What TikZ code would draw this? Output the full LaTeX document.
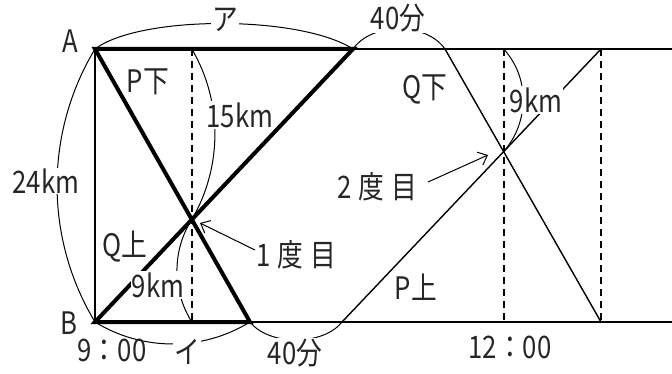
\documentclass[tikz,border=0pt]{standalone}
\usepackage{fontspec}
\setmainfont{Noto Sans CJK JP}[FakeStretch=0.83]
\usetikzlibrary{arrows.meta}
\begin{document}
\begin{tikzpicture}[x=1pt,y=-1pt,
  base/.style={line width=2pt},
  thinline/.style={line width=1.4pt},
  bold/.style={line width=4pt,line join=miter},
  dashline/.style={line width=2pt,dash pattern=on 7pt off 5pt},
  bracearc/.style={line width=1pt},
  arr/.style={line width=1pt,-{Straight Barb[length=8pt,width=14pt]}},
  lbl/.style={font=\fontsize{31}{31}\selectfont,text=black!85,inner sep=1pt},
  blk/.style={lbl,fill=white},
]
\useasboundingbox (0,0) rectangle (672,374);
% points
\coordinate (A) at (95,49);
\coordinate (B) at (95,322);
\coordinate (T1) at (353,49);
\coordinate (B1) at (250,322);
\coordinate (Q0) at (445,49);
\coordinate (Q1) at (601,322);
\coordinate (P0) at (342,322);
\coordinate (P1) at (601,49);
\coordinate (TR) at (672,49);
\coordinate (BR) at (672,322);
\coordinate (X1) at (intersection of A--B1 and B--T1);
\coordinate (X2) at (intersection of Q0--Q1 and P0--P1);
% frame
\draw[base] (A) -- (TR);
\draw[base] (B) -- (BR);
\draw[base] (A) -- (B);
% dashed verticals
\draw[dashline] (X1 |- A) -- (X1 |- B);
\draw[dashline] (X2 |- A) -- (X2 |- B);
\draw[dashline] (P1) -- (Q1);
% thin diagonals
\draw[thinline] (Q0) -- (Q1);
\draw[thinline] (P0) -- (P1);
% bold
\draw[bold] (T1) -- (A) -- (B1) -- (B) -- cycle;
% brace arcs
\draw[bracearc] (A) .. controls (140,15) and (300,15) .. (T1);
\draw[bracearc] (T1) .. controls (372,22) and (426,22) .. (Q0);
\draw[bracearc] (A) .. controls (44.4,133) and (44.4,238) .. (B);
\draw[bracearc] (X1 |- A) .. controls (222.6,101.4) and (222.6,166.6) .. (X1);
\draw[bracearc] (X1) .. controls (172,250.5) and (172,290.5) .. (X1 |- B);
\draw[bracearc] (X2 |- A) .. controls (529.7,77.4) and (529.7,121.6) .. (X2);
\draw[bracearc] (B) .. controls (142.5,351.3) and (202.5,351.3) .. (B1);
\draw[bracearc] (B1) .. controls (269,346) and (323,346) .. (P0);
% labels
\node[lbl] (lA) at (70,41) {A};
\node[lbl] (lB) at (69,323) {B};
\node[lbl] (t900) at (112,350) {9：00};
\node[lbl] (t1200) at (510,347) {12：00};
\node[blk] (la) at (225,20) {ア};
\node[blk] (l40a) at (398,18) {40分};
\node[blk] (l40b) at (295,353) {40分};
\node[blk] (li) at (187,352) {イ};
\node[blk] (l24) at (46,181) {24km};
\node[blk] (l15) at (240,115) {15km};
\node[blk] (l9a) at (536,100) {9km};
\node[blk] (l9b) at (158,285) {9km};
\node[lbl] (lPd) at (148,82) {P下};
\node[lbl] (lQd) at (425,89) {Q下};
\node[lbl] (lQu) at (125,247) {Q上};
\node[lbl] (lPu) at (416,287) {P上};
\node[lbl] (l1) at (296,255) {1\hspace{7pt}度\hspace{7pt}目};
\node[lbl] (l2) at (377,187) {2\hspace{7pt}度\hspace{7pt}目};
% arrows
\coordinate (a1) at (200,223);
\coordinate (a2) at (488,155);
\draw[arr] ([yshift=5pt]l1.west) -- (a1);
\draw[arr] ([xshift=10pt,yshift=5pt]l2.east) -- (a2);
\end{tikzpicture}
\end{document}
